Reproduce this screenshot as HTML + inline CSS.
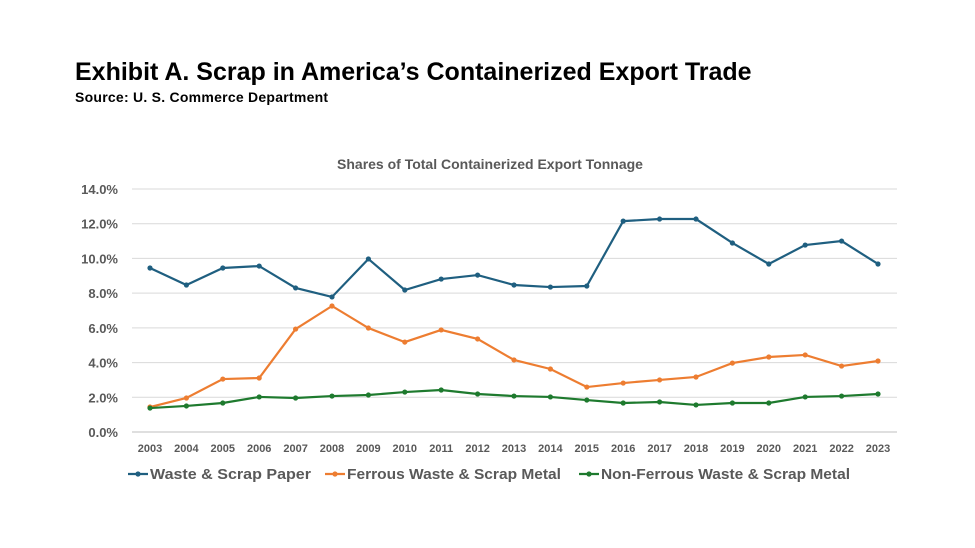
<!DOCTYPE html>
<html><head><meta charset="utf-8"><style>
body{margin:0;background:#fff;font-family:"Liberation Sans",sans-serif;}
#wrap{position:relative;width:975px;height:548px;overflow:hidden;}
h1{position:absolute;left:75px;top:58px;margin:0;font-size:25px;font-weight:bold;color:#000;letter-spacing:0px}
.src{position:absolute;left:75px;top:89px;font-size:14px;font-weight:bold;color:#000;letter-spacing:0.25px}
</style></head><body>
<div id="wrap">
<h1>Exhibit A. Scrap in America’s Containerized Export Trade</h1>
<div class="src">Source: U. S. Commerce Department</div>
<svg id="svg" width="975" height="548" style="position:absolute;left:0;top:0"></svg>
</div>
<script>
const years=[2003,2004,2005,2006,2007,2008,2009,2010,2011,2012,2013,2014,2015,2016,2017,2018,2019,2020,2021,2022,2023];
const paper=[9.45,8.47,9.45,9.56,8.3,7.78,9.97,8.18,8.81,9.04,8.47,8.35,8.41,12.15,12.27,12.27,10.89,9.68,10.77,11.0,9.68];
const ferrous=[1.44,1.96,3.05,3.11,5.93,7.26,5.99,5.18,5.88,5.36,4.15,3.63,2.59,2.82,3.0,3.17,3.97,4.32,4.44,3.8,4.09];
const nonferrous=[1.38,1.5,1.67,2.02,1.96,2.07,2.13,2.3,2.42,2.19,2.07,2.02,1.84,1.67,1.73,1.56,1.67,1.67,2.02,2.07,2.19];
const yTicks=[0,2,4,6,8,10,12,14];
const seriesNames=["Waste & Scrap Paper","Ferrous Waste & Scrap Metal","Non-Ferrous Waste & Scrap Metal"];
const NS="http://www.w3.org/2000/svg",svg=document.getElementById('svg');
const x=i=>150+i*(878-150)/(years.length-1);
const y=v=>432-v*(432-189)/14;
function mk(t,a,txt){const e=document.createElementNS(NS,t);for(const k in a)e.setAttribute(k,a[k]);if(txt!=null)e.textContent=txt;svg.appendChild(e);return e;}
let t=mk('text',{x:490,y:169,'text-anchor':'middle','font-size':14,'font-weight':'bold',fill:'#595959'},'Shares of Total Containerized Export Tonnage');

yTicks.forEach(v=>{const g=mk('line',{x1:132,x2:897,y1:y(v),y2:y(v),stroke:v==0?'#bfbfbf':'#d9d9d9','stroke-width':1});

const l=mk('text',{x:118,y:y(v)+5,'text-anchor':'end','font-size':13,'font-weight':'bold',fill:'#595959'},v.toFixed(1)+'%');
});
years.forEach((yr,i)=>{const l=mk('text',{x:x(i),y:452,'text-anchor':'middle','font-size':11,'font-weight':'bold',fill:'#595959'},yr);
});
const colors=['#1f5f80','#ed7d31','#1e7a2e'];
[paper,ferrous,nonferrous].forEach((d,s)=>{
const p=mk('polyline',{points:d.map((v,i)=>x(i)+','+y(v)).join(' '),fill:'none',stroke:colors[s],'stroke-width':2.2});

d.forEach((v,i)=>{const c=mk('circle',{cx:x(i),cy:y(v),r:2.6,fill:colors[s]});
});});
const lx=[128,325,579];
const lw=[161,214,249];
seriesNames.forEach((n,s)=>{
const a=mk('line',{x1:lx[s],x2:lx[s]+20,y1:474,y2:474,stroke:colors[s],'stroke-width':2.2});

const c=mk('circle',{cx:lx[s]+10,cy:474,r:2.6,fill:colors[s]});

const l=mk('text',{x:lx[s]+22,y:479,'font-size':14.5,'font-weight':'bold',fill:'#595959',textLength:lw[s],lengthAdjust:'spacingAndGlyphs'},n);
});
</script>
</body></html>
